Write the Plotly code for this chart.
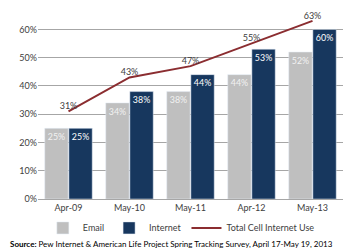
import plotly.graph_objects as go

categories = ["Apr-09", "May-10", "May-11", "Apr-12", "May-13"]
email = [25, 34, 38, 44, 52]
internet = [25, 38, 44, 53, 60]
total_cell = [31, 43, 47, 55, 63]

FONT = "Lato, 'Open Sans', sans-serif"

fig = go.Figure()
fig.add_trace(go.Bar(
    x=categories, y=email, name="Email", marker_color="#BFBFBF",
    text=[f"{v}%" for v in email], textposition="inside", insidetextanchor="end",
    textangle=0,
    textfont=dict(color="#F2F2F2", size=9, family=FONT),
))
fig.add_trace(go.Bar(
    x=categories, y=internet, name="Internet", marker_color="#17375E",
    text=[f"{v}%" for v in internet], textposition="inside", insidetextanchor="end",
    textangle=0,
    textfont=dict(color="#FFFFFF", size=9, family=FONT),
))
fig.add_trace(go.Scatter(
    x=categories, y=total_cell, name="Total Cell Internet Use", mode="lines+text",
    line=dict(color="#8B2D30", width=2),
    text=[f"{v}%" for v in total_cell], textposition="top center",
    textfont=dict(color="#404040", size=9, family=FONT), cliponaxis=False,
))

fig.update_layout(
    width=359, height=250,
    margin=dict(l=38, r=16, t=1, b=51),
    barmode="group", bargap=0.21, bargroupgap=0.03,
    plot_bgcolor="white", paper_bgcolor="white",
    font=dict(family=FONT, size=9, color="#404040"),
    uniformtext=dict(mode="show", minsize=8),
    xaxis=dict(showgrid=False, showline=True, linecolor="#A6A6A6", ticks="",
               tickfont=dict(size=9, color="#404040")),
    yaxis=dict(range=[0, 70.05], tickvals=[0, 10, 20, 30, 40, 50, 60, 70],
               ticktext=[f"{v}%" for v in [0, 10, 20, 30, 40, 50, 60, 70]],
               showgrid=True, gridcolor="#A6A6A6", gridwidth=1, zeroline=False,
               tickfont=dict(size=9, color="#404040")),
    legend=dict(orientation="h", x=0.47, xanchor="center", y=-0.146, yanchor="middle",
                font=dict(size=9, color="#404040"), itemwidth=30, traceorder="normal"),
    showlegend=True,
)
fig.add_annotation(
    text="<b>Source:</b> Pew Internet & American Life Project Spring Tracking Survey, April 17-May 19, 2013",
    xref="paper", yref="paper", x=-0.1, y=-0.225, xanchor="left", yanchor="middle",
    showarrow=False, font=dict(size=8, color="#000000"),
)

fig.write_html("out.html")
